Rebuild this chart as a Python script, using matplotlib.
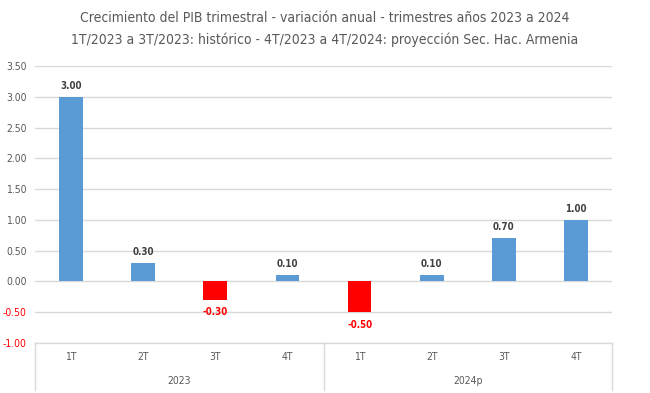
import matplotlib.pyplot as plt
import matplotlib.font_manager as fm

# datos
trimestres = ['1T', '2T', '3T', '4T', '1T', '2T', '3T', '4T']
anios = ['2023', '2024p']
valores = [3.00, 0.30, -0.30, 0.10, -0.50, 0.10, 0.70, 1.00]
yticks = [-1.0, -0.5, 0.0, 0.5, 1.0, 1.5, 2.0, 2.5, 3.0, 3.5]

names = {f.name for f in fm.fontManager.ttflist}
fam = 'Liberation Sans Narrow' if 'Liberation Sans Narrow' in names else 'DejaVu Sans'
plt.rcParams['font.family'] = [fam, 'DejaVu Sans']
plt.rcParams['font.stretch'] = 'condensed'

gris = '#595959'
azul = '#5B9BD5'
rojo = '#FF0000'

fig = plt.figure(figsize=(6.5, 3.93), dpi=100)
W, H = 650, 393
ax = fig.add_axes([35 / W, 1 - 343 / H, (612 - 35) / W, (343 - 66) / H])

x = list(range(len(valores)))
colores = [azul if v >= 0 else rojo for v in valores]
ax.bar(x, valores, width=0.33, color=colores, zorder=3)

for xi, v in zip(x, valores):
    if v >= 0:
        ax.text(xi, v + 0.1, f'{v:.2f}', ha='center', va='bottom', fontsize=7,
                fontweight='bold', color='#404040')
    else:
        ax.text(xi, v - 0.12, f'{v:.2f}', ha='center', va='top', fontsize=7,
                fontweight='bold', color=rojo)

ax.set_xlim(-0.5, len(valores) - 0.5)
ax.set_ylim(-1.0, 3.5)
ax.set_yticks(yticks)
ax.set_yticklabels([f'{t:.2f}' for t in yticks], fontsize=7.5)
for lab, t in zip(ax.get_yticklabels(), yticks):
    lab.set_color(rojo if t < 0 else gris)
ax.tick_params(axis='y', length=0, pad=6)
ax.set_xticks([])
ax.grid(axis='y', color='#D9D9D9', linewidth=1, zorder=0)
for s in ax.spines.values():
    s.set_visible(False)

# caja de categorias
tr = ax.get_xaxis_transform()
yb = -47 / 277
kw = dict(color='#D9D9D9', linewidth=1, transform=tr, clip_on=False)
ax.plot([-0.5, 7.5], [0, 0], **kw)
for xv in [-0.5, 3.5, 7.5]:
    ax.plot([xv, xv], [0, yb], **kw)
for xi, t in zip(x, trimestres):
    ax.text(xi, -14 / 277, t, ha='center', va='center', fontsize=7.5, color=gris, transform=tr)
for i, a in enumerate(anios):
    ax.text(1.5 + 4 * i, -38 / 277, a, ha='center', va='center', fontsize=7.5, color=gris,
            transform=tr)

fig.text(0.5, 1 - 18 / H, 'Crecimiento del PIB trimestral - variación anual - trimestres años 2023 a 2024',
         ha='center', va='center', fontsize=10, color=gris)
fig.text(0.5, 1 - 40 / H, '1T/2023 a 3T/2023: histórico - 4T/2023 a 4T/2024: proyección Sec. Hac. Armenia',
         ha='center', va='center', fontsize=10, color=gris)

fig.savefig('out.png', dpi=100)
